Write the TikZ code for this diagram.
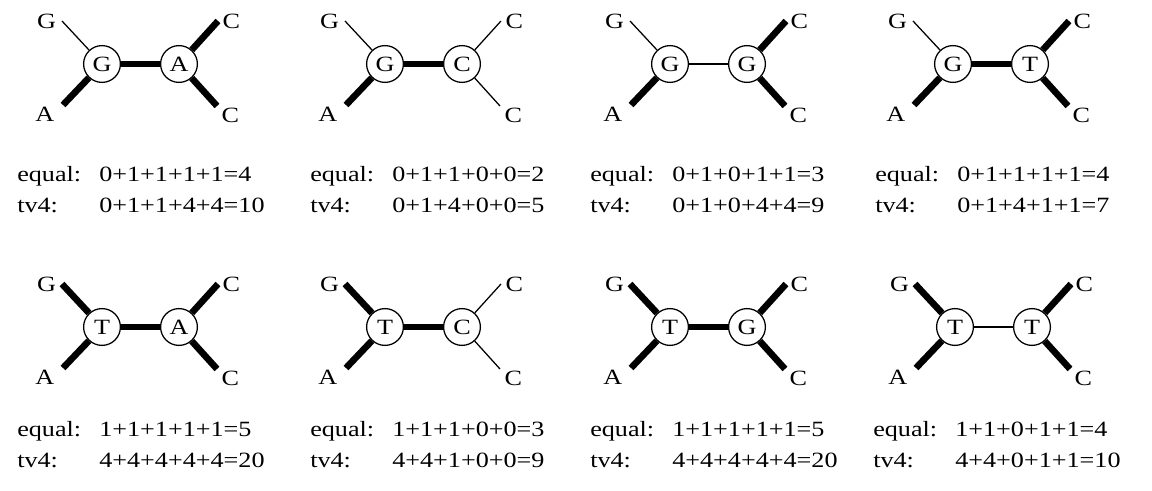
\documentclass[tikz,border=0pt]{standalone}
\usepackage{fontspec}
\setmainfont{Liberation Serif}[FakeStretch=1.2]
\usetikzlibrary{positioning}

\begin{document}
\begin{tikzpicture}[x=0.025cm,y=-0.025cm,
  font=\fontsize{15.5}{17}\selectfont,
  anc/.style={circle,draw,line width=0.9pt,minimum size=0.92cm,inner sep=0pt,fill=white},
  leaf/.style={inner sep=1pt},
  edge/.style={line width={0.9pt+3.8pt*#1}},
  score/.style={anchor=base west,inner sep=0pt}
]
  \useasboundingbox (0,0) rectangle (1152,491);
  % panels: node x, node y, text x, text y, inner states, edge costs (equal), sums
  \foreach \i/\ox/\oy/\tx/\ty/\l/\r/\ca/\cb/\cc/\cd/\ce/\eq/\tv in {
    1/102/64/17/182/G/A/0/1/1/1/1/{0+1+1+1+1=4}/{0+1+1+4+4=10},
    2/385/64/310/182/G/C/0/1/1/0/0/{0+1+1+0+0=2}/{0+1+4+0+0=5},
    3/670/64/590/182/G/G/0/1/0/1/1/{0+1+0+1+1=3}/{0+1+0+4+4=9},
    4/953/64/875/182/G/T/0/1/1/1/1/{0+1+1+1+1=4}/{0+1+4+1+1=7},
    5/102/327/17/437/T/A/1/1/1/1/1/{1+1+1+1+1=5}/{4+4+4+4+4=20},
    6/385/327/310/437/T/C/1/1/1/0/0/{1+1+1+0+0=3}/{4+4+1+0+0=9},
    7/670/327/590/437/T/G/1/1/1/1/1/{1+1+1+1+1=5}/{4+4+4+4+4=20},
    8/955/327/873/437/T/T/1/1/0/1/1/{1+1+0+1+1=4}/{4+4+0+1+1=10}}{
    % inner nodes
    \node[anc] (l\i) at (\ox,\oy) {\l};
    \node[anc] (r\i) at (\ox+77,\oy) {\r};
    % leaf ends and labels
    \coordinate (tl\i) at (\ox-40,\oy-43);
    \coordinate (bl\i) at (\ox-39,\oy+41);
    \coordinate (tr\i) at (\ox+116,\oy-43);
    \coordinate (br\i) at (\ox+115,\oy+42);
    \node[leaf,left=3pt of tl\i] (g\i) {G};
    \node[leaf,below left=0pt and 5pt of bl\i] (a\i) {A};
    \node[leaf,right=2pt of tr\i] (c\i) {C};
    \node[leaf,below right=0pt and 2pt of br\i] (d\i) {C};
    % branches
    \draw[edge=\ca] (l\i) -- (tl\i);
    \draw[edge=\cb] (l\i) -- (bl\i);
    \draw[edge=\cc] (l\i) -- (r\i);
    \draw[edge=\cd] (r\i) -- (tr\i);
    \draw[edge=\ce] (r\i) -- (br\i);
    % costs
    \node[score] (eq\i) at (\tx,\ty) {equal:};
    \node[score] (eqv\i) at (\tx+82,\ty) {\eq};
    \node[score] (tv\i) at (\tx,\ty+31) {tv4:};
    \node[score] (tvv\i) at (\tx+82,\ty+31) {\tv};
  }
\end{tikzpicture}
\end{document}
